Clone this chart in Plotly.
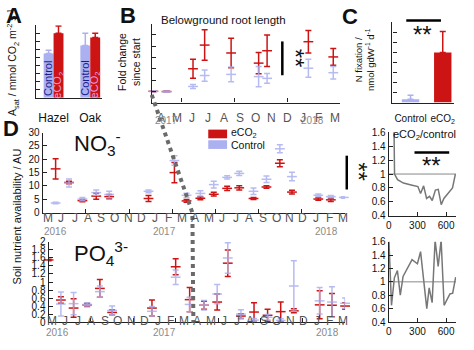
import plotly.graph_objects as go

# ---------------- DATA ----------------
# Panel A: light-saturated photosynthesis
species = ["Hazel", "Oak"]
asat_control = [5.5, 6.5]
asat_control_err = [0.4, 1.5]
asat_eco2 = [8.0, 7.5]
asat_eco2_err = [0.9, 0.5]

# Panel B: belowground root length (fold change), x = days
root_days_control = [347, 372, 422, 444, 494, 546, 562, 640, 687]
root_control = [1.0, 0.97, 1.43, 2.4, 2.5, 2.3, 2.15, 3.05, 2.65]
root_control_err = [0.05, 0.06, 0.18, 0.5, 0.65, 0.9, 0.43, 0.8, 0.55]
root_days_eco2 = [347, 372, 422, 444, 494, 546, 562, 640, 687]
root_eco2 = [1.0, 0.98, 3.0, 5.1, 4.4, 3.5, 4.6, 5.4, 4.05]
root_eco2_err = [0.03, 0.04, 0.85, 1.35, 1.3, 0.95, 1.4, 1.0, 0.75]

# Panel C: N fixation
nfix_groups = ["Control", "eCO<sub>2</sub>"]
nfix_mean = [0.32, 4.97]
nfix_err = [0.42, 2.1]

# Panel D: NO3 availability
no3_days = [30, 61, 92, 124, 154, 245, 305, 333, 365, 396, 427, 455, 488, 518, 549, 577, 638, 667, 697]
no3_control = [3.6, 11.1, 5.1, 7.5, 6.8, 8.0, 19.5, 6.5, 7.2, 10.5, 13.2, 14.7, 8.0, 12.5, 23.9, 13.5, 6.5, 6.0, 5.7]
no3_control_err = [0.3, 1.5, 0.6, 1.0, 1.2, 0.5, 1.8, 0.8, 1.0, 1.3, 0.6, 0.8, 1.2, 1.2, 1.5, 1.6, 0.5, 0.4, 0.3]
no3_eco2 = [16.4, 11.3, 4.5, 6.2, 6.0, 5.3, 15.0, 4.4, 5.4, 6.9, 9.1, 9.3, 5.3, 9.6, 18.5, 7.7, 5.1, 4.8, None]
no3_eco2_err = [3.8, 0.5, 0.4, 1.2, 0.8, 1.1, 3.8, 0.5, 0.6, 0.7, 0.8, 0.8, 0.4, 0.5, 1.3, 0.7, 0.5, 0.6, 0]

# Panel D: PO4 availability
po4_days = [0, 29, 59, 91, 121, 150, 244, 300, 333, 367, 398, 423, 454, 485, 517, 548, 579, 640, 669, 700]
po4_control = [None, 0.45, 0.46, 0.44, 0.76, 0.29, 0.27, 1.12, 0.44, 0.42, 0.7, 1.6, 0.2, 0.05, 0.12, 0.04, 0.9, 0.53, 0.5, 0.47]
po4_control_err = [0, 0.3, 0.28, 0.04, 0.14, 0.11, 0.12, 0.18, 0.18, 0.12, 0.24, 0.38, 0.11, 0.04, 0.07, 0.04, 0.63, 0.33, 0.38, 0.13]
po4_eco2 = [1.55, 0.55, 0.35, 0.43, 0.84, 0.24, 0.35, 1.38, 0.56, 0.42, 0.5, 1.47, 0.15, 0.25, 0.17, 0.26, 0.28, 0.43, 0.42, 0.4]
po4_eco2_err = [0.02, 0.08, 0.23, 0.04, 0.22, 0.06, 0.2, 0.2, 0.3, 0.1, 0.2, 0.33, 0.06, 0.23, 0.15, 0.24, 0.05, 0.35, 0.29, 0.08]

# Ratios eCO2/control
no3_ratio = [4.6, 1.0, 0.92, 0.9, 0.87, 0.84, 0.82, 0.72, 0.83, 0.65, 0.68, 0.62, 0.77, 0.78, 0.56, 0.65, 0.76, 0.8, 1.0]
po4_ratio = [1.7, 0.65, 1.06, 1.17, 0.8, 1.08, 1.33, 1.27, 1.45, 1.0, 0.6, 0.91, 0.69, 1.62, 1.23, 1.62, 0.65, 0.82, 0.83, 1.07]

months_b = ["A", "M", "J", "J", "A", "S", "O", "N", "D", "J", "F", "M"]
months_d = ["M", "J", "J", "A", "S", "O", "N", "D", "J", "F", "M", "A",
            "M", "J", "J", "A", "S", "O", "N", "D", "J", "F", "M"]

# ---------------- STYLE ----------------
W, H = 474, 350
def fx(p): return p / W
def fy(p): return 1 - p / H

RED = "#cc1414"
LAV = "#aab0f0"
FONT = "Liberation Sans, Arial, sans-serif"
MONTH_C = "#555555"
YEAR_C = "#8a8a8a"

fig = go.Figure()

# ---- Panel A bars
xa = list(range(len(species)))
fig.add_trace(go.Bar(x=[i - 0.135 for i in xa], y=asat_control, width=0.27, marker=dict(color=LAV, line=dict(width=0)),
                     error_y=dict(type="data", array=asat_control_err, arrayminus=[0] * len(xa), color=LAV, thickness=1.5, width=3),
                     xaxis="x", yaxis="y", showlegend=False))
fig.add_trace(go.Bar(x=[i + 0.135 for i in xa], y=asat_eco2, width=0.27, marker=dict(color=RED, line=dict(width=0)),
                     error_y=dict(type="data", array=asat_eco2_err, arrayminus=[0] * len(xa), color=RED, thickness=1.5, width=3),
                     xaxis="x", yaxis="y", showlegend=False))

# ---- Panel C bars
fig.add_trace(go.Bar(x=[0], y=[nfix_mean[0]], width=0.54, marker=dict(color=LAV, line=dict(width=0)),
                     error_y=dict(type="data", array=[nfix_err[0]], arrayminus=[0], color=LAV, thickness=1.5, width=3),
                     xaxis="x3", yaxis="y3", showlegend=False))
fig.add_trace(go.Bar(x=[1], y=[nfix_mean[1]], width=0.54, marker=dict(color=RED, line=dict(width=0)),
                     error_y=dict(type="data", array=[nfix_err[1]], arrayminus=[0], color=RED, thickness=1.5, width=3),
                     xaxis="x3", yaxis="y3", showlegend=False))


def err_trace(x, y, e, color, xa_, ya_, opacity=1.0):
    return go.Scatter(x=x, y=y, mode="markers",
                      marker=dict(symbol="line-ew", size=7, color=color, line=dict(width=1.5, color=color)),
                      error_y=dict(type="data", array=e, color=color, thickness=1.5, width=3),
                      xaxis=xa_, yaxis=ya_, showlegend=False, opacity=opacity, cliponaxis=False)


# ---- Panel B
fig.add_trace(err_trace(root_days_eco2, root_eco2, root_eco2_err, RED, "x2", "y2"))
fig.add_trace(err_trace(root_days_control, root_control, root_control_err, LAV, "x2", "y2", 0.85))
# ---- Panel D NO3
fig.add_trace(err_trace(no3_days, no3_eco2, no3_eco2_err, RED, "x4", "y4"))
fig.add_trace(err_trace(no3_days, no3_control, no3_control_err, LAV, "x4", "y4", 0.85))
# ---- Panel D PO4
fig.add_trace(err_trace(po4_days, po4_eco2, po4_eco2_err, RED, "x5", "y5"))
fig.add_trace(err_trace(po4_days, po4_control, po4_control_err, LAV, "x5", "y5", 0.85))

# ---- ratio panels
RATIO_RANGE = [0, 705]
fig.add_trace(go.Scatter(x=RATIO_RANGE, y=[1, 1], mode="lines", line=dict(color="#888", width=1),
                         xaxis="x6", yaxis="y6", showlegend=False))
fig.add_trace(go.Scatter(x=no3_days, y=no3_ratio, mode="lines", line=dict(color="#777", width=1.5),
                         xaxis="x6", yaxis="y6", showlegend=False))
fig.add_trace(go.Scatter(x=RATIO_RANGE, y=[1, 1], mode="lines", line=dict(color="#888", width=1),
                         xaxis="x7", yaxis="y7", showlegend=False))
fig.add_trace(go.Scatter(x=po4_days, y=po4_ratio, mode="lines", line=dict(color="#777", width=1.5),
                         xaxis="x7", yaxis="y7", showlegend=False))


def xax(p0, p1, rng, **kw):
    d = dict(domain=[fx(p0), fx(p1)], range=rng, showline=True, linecolor="#222", linewidth=1.3,
             ticks="inside", ticklen=4, tickwidth=1.3, tickcolor="#222", showgrid=False, zeroline=False,
             showticklabels=False, tickfont=dict(size=10, family=FONT, color="#111"), fixedrange=True)
    d.update(kw)
    return d


def yax(pb, pt, rng, **kw):
    d = dict(domain=[fy(pb), fy(pt)], range=rng, showline=True, linecolor="#222", linewidth=1.3,
             ticks="inside", ticklen=4, tickwidth=1.3, tickcolor="#222", showgrid=False, zeroline=False,
             showticklabels=False, tickfont=dict(size=10, family=FONT, color="#111"), fixedrange=True)
    d.update(kw)
    return d


po4_ticks = [round(0.2 * i, 1) for i in range(11)]
ratio_ticks = [round(0.4 + 0.2 * i, 1) for i in range(7)]

fig.update_layout(
    width=W, height=H, margin=dict(l=0, r=0, t=0, b=0),
    paper_bgcolor="white", plot_bgcolor="white", barmode="overlay",
    font=dict(family=FONT, color="#111"),
    xaxis=xax(33, 100, [-0.486, 1.324], tickvals=xa, ticktext=species, showticklabels=True, ticks="",
              tickfont=dict(size=12, family=FONT, color="#111"), ticklabelstandoff=9, anchor="y"),
    yaxis=yax(95, 20, [0, 9], dtick=1, anchor="x"),
    xaxis2=xax(150, 340, [344, 700], tickvals=[400, 500, 600], anchor="y2"),
    yaxis2=yax(100, 18.3, [0, 7], dtick=1, anchor="x2"),
    xaxis3=xax(392.7, 455, [-0.563, 1.354], tickvals=[0, 1], ticktext=nfix_groups, showticklabels=True, ticks="",
               tickfont=dict(size=10, family=FONT, color="#111"), ticklabelstandoff=6, anchor="y3"),
    yaxis3=yax(100, 16.7, [0, 8], dtick=1, anchor="x3"),
    xaxis4=xax(40, 345, [0, 700], dtick=100, anchor="y4"),
    yaxis4=yax(214, 131, [0, 30], dtick=5, showticklabels=True, anchor="x4"),
    xaxis5=xax(46, 345, [0, 700], dtick=100, anchor="y5"),
    yaxis5=yax(327.3, 244.3, [0, 2], tickvals=po4_ticks, ticktext=[f"{v:g}" for v in po4_ticks],
               showticklabels=True, anchor="x5"),
    xaxis6=xax(389, 457, RATIO_RANGE, tickvals=[0, 300, 600], showticklabels=True, anchor="y6"),
    yaxis6=yax(217.3, 130.7, [0.4, 1.6], tickvals=ratio_ticks, ticktext=[f"{v:g}" for v in ratio_ticks],
               showticklabels=True, anchor="x6"),
    xaxis7=xax(389, 457, RATIO_RANGE, tickvals=[0, 300, 600], showticklabels=True, anchor="y7"),
    yaxis7=yax(327.3, 244, [0.4, 1.6], tickvals=ratio_ticks, ticktext=[f"{v:g}" for v in ratio_ticks],
               showticklabels=True, anchor="x7"),
)

shapes = []
# dotted connector line
shapes.append(dict(type="path", xref="paper", yref="paper",
                   path=f"M {fx(150)},{fy(92)} L {fx(191)},{fy(214)} L {fx(192)},{fy(328)}",
                   line=dict(color="#6a6a6a", width=4, dash="dot")))
# significance bars
def hline(x0, x1, y):
    return dict(type="line", xref="paper", yref="paper", x0=fx(x0), x1=fx(x1), y0=fy(y), y1=fy(y),
                line=dict(color="#000", width=2.5))
def vline(x, y0, y1):
    return dict(type="line", xref="paper", yref="paper", x0=fx(x), x1=fx(x), y0=fy(y0), y1=fy(y1),
                line=dict(color="#000", width=2.5))
shapes += [hline(406.7, 441.7, 15), vline(281.7, 36.7, 71.7), vline(346.7, 155, 190), hline(415, 450, 151.7)]
# legend swatches
shapes.append(dict(type="rect", xref="paper", yref="paper", x0=fx(207), x1=fx(226), y0=fy(137), y1=fy(128),
                   fillcolor=RED, line=dict(width=0)))
shapes.append(dict(type="rect", xref="paper", yref="paper", x0=fx(207), x1=fx(226), y0=fy(148), y1=fy(139),
                   fillcolor=LAV, line=dict(width=0)))

ann = []
def txt(x, y, s, size=11, color="#111", angle=0, xanchor="center", yanchor="middle", bold=False):
    ann.append(dict(x=fx(x), y=fy(y), xref="paper", yref="paper",
                    text=(f"<b>{s}</b>" if bold else s), showarrow=False, textangle=angle,
                    xanchor=xanchor, yanchor=yanchor, font=dict(size=size, color=color, family=FONT)))

# panel letters
txt(11, 10, "A", 22, bold=True)
txt(126, 10, "B", 22, bold=True)
txt(350, 11, "C", 22, bold=True)
txt(8, 127, "D", 22, bold=True)

# axis titles
txt(10, 58, "A<sub>sat</sub> / mmol CO<sub>2</sub> m<sup>-2</sup> s<sup>-1</sup>", 10.5, angle=-90)
txt(127, 58, "Fold change<br>since start", 10.5, angle=-90)
txt(364, 55, "N fixation /<br>nmol gdW<sup>-1</sup> d<sup>-1</sup>", 9.5, angle=-90)
txt(14, 218, "Soil nutrient availability / AU", 11, angle=-90)

# text inside bars A
for i in xa:
    ann.append(dict(x=i - 0.135, y=fy(75), xref="x", yref="paper", text="Control", showarrow=False, textangle=-90,
                    xanchor="center", yanchor="middle", font=dict(size=11, color="#1c1c8c", family=FONT)))
    ann.append(dict(x=i + 0.135, y=fy(82), xref="x", yref="paper", text="eCO<sub>2</sub>", showarrow=False,
                    xanchor="center", yanchor="middle",
                    textangle=-90, font=dict(size=11, color="#e0a0e8", family=FONT)))

# titles
txt(157, 15, "Belowground root length", 11.5, xanchor="left")
txt(70, 142, "NO<sub>3</sub><sup>-</sup>", 22, xanchor="left")
txt(70, 256, "PO<sub>4</sub><sup>3-</sup>", 22, xanchor="left")
txt(425, 134, "eCO<sub>2</sub>/control", 11)

# legend text
txt(228, 131, "eCO<sub>2</sub>", 10.5, xanchor="left")
txt(228, 143.5, "Control", 10.5, xanchor="left")

# significance stars
txt(423, 29, "**", 24)
txt(432, 165, "**", 24)
txt(295, 54, "**", 24, angle=90)
txt(359, 172, "**", 24, angle=90)

# month letters
for k, m in enumerate(months_b):
    ann.append(dict(x=361 + 29.9 * k, y=fy(107), xref="x2", yref="paper", text=m, showarrow=False,
                    font=dict(size=12, color=MONTH_C, family=FONT)))
for k, m in enumerate(months_d):
    ann.append(dict(x=11.5 + 31.1 * k, y=fy(220), xref="x4", yref="paper", text=m, showarrow=False,
                    font=dict(size=12, color=MONTH_C, family=FONT)))
    ann.append(dict(x=7 + 31.3 * k, y=fy(336), xref="x5", yref="paper", text=m, showarrow=False,
                    font=dict(size=12, color=MONTH_C, family=FONT)))
# years
for xd, yr in [(372, "2017"), (647, "2018")]:
    ann.append(dict(x=xd, y=fy(119), xref="x2", yref="paper", text=yr, showarrow=False,
                    font=dict(size=10, color=YEAR_C, family=FONT)))
for xd, yr in [(30, "2016"), (282, "2017"), (658, "2018")]:
    ann.append(dict(x=xd, y=fy(233), xref="x4", yref="paper", text=yr, showarrow=False,
                    font=dict(size=10, color=YEAR_C, family=FONT)))
for xd, yr in [(21, "2016"), (274, "2017"), (658, "2018")]:
    ann.append(dict(x=xd, y=fy(346), xref="x5", yref="paper", text=yr, showarrow=False,
                    font=dict(size=10, color=YEAR_C, family=FONT)))

fig.update_layout(shapes=shapes, annotations=ann)
fig.write_html("out.html")
